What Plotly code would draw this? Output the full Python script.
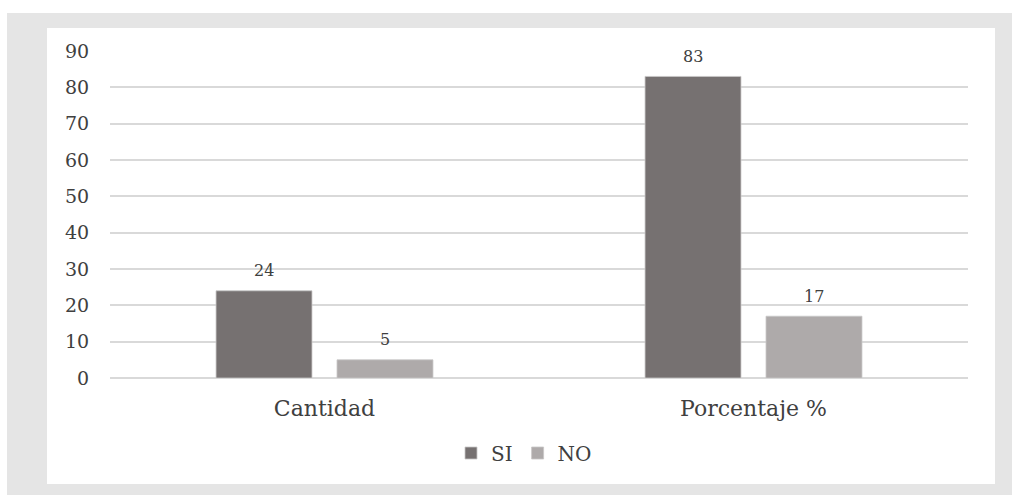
import plotly.graph_objects as go

categories = ["Cantidad", "Porcentaje %"]
series_names = ["SI", "NO"]
si_values = [24, 83]
no_values = [5, 17]
y_ticks = [0, 10, 20, 30, 40, 50, 60, 70, 80, 90]

colors = {"SI": "#767171", "NO": "#AEAAAA"}
serif = "DejaVu Serif"

fig = go.Figure()
for name, vals in zip(series_names, [si_values, no_values]):
    fig.add_trace(go.Bar(
        name=name, x=categories, y=vals,
        marker=dict(color=colors[name], line=dict(color="#c8c6c6", width=0.8)),
        showlegend=True,
    ))

offsets = {"SI": -60.5, "NO": 60.5}
annotations = []
for name, vals in zip(series_names, [si_values, no_values]):
    for c, v in zip(categories, vals):
        annotations.append(dict(
            x=c, y=v, xref="x", yref="y", text=str(v), showarrow=False,
            xshift=offsets[name], yshift=20,
            font=dict(family=serif, size=16, color="#404040"),
        ))

L, R, T, B = 110, 44, 51, 117
W, H = 1012, 495
pw, ph = W - L - R, H - T - B

def px(x):
    return (x - L) / pw

def py(y):
    return (H - B - y) / ph

shapes = [
    dict(type="rect", xref="paper", yref="paper", x0=px(7), x1=px(1012), y0=py(495), y1=py(13),
         fillcolor="#e5e5e5", line=dict(width=0), layer="below"),
    dict(type="rect", xref="paper", yref="paper", x0=px(47), x1=px(995), y0=py(484), y1=py(28),
         fillcolor="#ffffff", line=dict(width=0), layer="below"),
]

fig.update_layout(
    width=W, height=H,
    margin=dict(l=L, r=R, t=T, b=B),
    paper_bgcolor="#ffffff", plot_bgcolor="rgba(0,0,0,0)",
    barmode="group", bargap=0.436, bargroupgap=0.207,
    shapes=shapes, annotations=annotations,
    legend=dict(orientation="h", x=px(524), xanchor="center", y=py(453), yanchor="middle",
                font=dict(family=serif, size=20, color="#404040"), itemwidth=30,
                bgcolor="rgba(0,0,0,0)"),
    xaxis=dict(tickfont=dict(family=serif, size=22, color="#404040"),
               ticks="outside", ticklen=11, tickcolor="rgba(0,0,0,0)",
               showgrid=False, showline=False, zeroline=False),
    yaxis=dict(range=[0, 90], tickvals=y_ticks,
               tickfont=dict(family=serif, size=19, color="#404040"),
               ticks="outside", ticklen=16, tickcolor="rgba(0,0,0,0)",
               showgrid=True, gridcolor="#d9d9d9", gridwidth=2,
               zeroline=True, zerolinecolor="#d9d9d9", zerolinewidth=2, showline=False),
)

fig.write_html("out.html", config={"displayModeBar": False},
               post_script="document.body.style.margin='0';")
